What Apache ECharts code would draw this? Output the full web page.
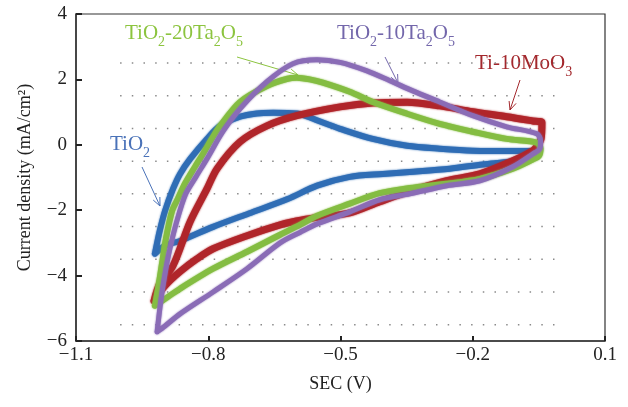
<!DOCTYPE html>
<html>
<head>
<meta charset="utf-8">
<script src="https://cdn.jsdelivr.net/npm/echarts@6/dist/echarts.min.js"></script>
<style>
html, body { margin: 0; padding: 0; background: #fff; }
#main { width: 628px; height: 407px; }
</style>
</head>
<body>
<div id="main"></div>
<script>
// axis ticks
var xTicks = [-1.1, -0.8, -0.5, -0.2, 0.1];
var yTicks = [-6, -4, -2, 0, 2, 4];
// dotted guide rows (inside the plot only)
var dotLevels = [2.5, 1.5, 0.5, -0.5, -1.5, -2.5, -3.5, -4.5, -5.5];
var dotFrom = -1.0, dotTo = 0.0;

// CV loops [E (V), j (mA/cm2)]
var tio2 = [[-0.921,-3.33],[-0.910,-2.63],[-0.898,-2.02],[-0.880,-1.35],[-0.864,-0.89],[-0.841,-0.43],[-0.803,0.18],[-0.773,0.58],[-0.728,0.86],[-0.690,0.96],[-0.653,0.98],[-0.599,0.96],[-0.576,0.87],[-0.540,0.68],[-0.501,0.49],[-0.427,0.18],[-0.349,-0.03],[-0.275,-0.12],[-0.200,-0.18],[-0.100,-0.19],[-0.062,-0.19],[-0.052,-0.30],[-0.070,-0.42],[-0.116,-0.52],[-0.177,-0.60],[-0.252,-0.73],[-0.343,-0.83],[-0.404,-0.89],[-0.479,-0.98],[-0.553,-1.25],[-0.620,-1.66],[-0.708,-2.10],[-0.789,-2.51],[-0.864,-2.94],[-0.895,-3.06],[-0.921,-3.33]];
var ta20 = [[-0.921,-4.92],[-0.914,-4.40],[-0.905,-3.64],[-0.896,-2.87],[-0.882,-2.02],[-0.869,-1.65],[-0.853,-1.19],[-0.830,-0.67],[-0.812,-0.28],[-0.792,0.18],[-0.773,0.58],[-0.728,1.31],[-0.667,1.80],[-0.620,2.02],[-0.599,2.05],[-0.570,2.00],[-0.540,1.90],[-0.479,1.62],[-0.427,1.31],[-0.349,0.95],[-0.275,0.64],[-0.200,0.40],[-0.123,0.18],[-0.055,0.07],[-0.046,-0.12],[-0.050,-0.34],[-0.064,-0.45],[-0.109,-0.73],[-0.184,-1.04],[-0.259,-1.19],[-0.343,-1.32],[-0.411,-1.48],[-0.479,-1.80],[-0.553,-2.17],[-0.592,-2.45],[-0.637,-2.75],[-0.712,-3.27],[-0.789,-3.79],[-0.864,-4.40],[-0.898,-4.71],[-0.921,-4.92]];
var ta10 = [[-0.916,-5.72],[-0.907,-4.71],[-0.898,-3.94],[-0.887,-3.18],[-0.871,-2.32],[-0.851,-1.50],[-0.828,-0.98],[-0.803,-0.43],[-0.767,0.40],[-0.728,1.10],[-0.667,1.93],[-0.608,2.48],[-0.553,2.60],[-0.501,2.52],[-0.440,2.26],[-0.388,1.96],[-0.336,1.65],[-0.275,1.31],[-0.200,0.89],[-0.123,0.55],[-0.055,0.34],[-0.046,0.12],[-0.048,-0.12],[-0.064,-0.28],[-0.109,-0.67],[-0.184,-1.10],[-0.259,-1.25],[-0.343,-1.50],[-0.411,-1.68],[-0.479,-2.05],[-0.553,-2.42],[-0.592,-2.68],[-0.637,-3.00],[-0.712,-3.79],[-0.789,-4.50],[-0.864,-5.17],[-0.898,-5.54],[-0.916,-5.72]];
var moo3 = [[-0.923,-4.77],[-0.910,-4.25],[-0.880,-3.70],[-0.841,-2.35],[-0.803,-1.35],[-0.780,-0.73],[-0.728,0.09],[-0.667,0.58],[-0.599,0.89],[-0.501,1.16],[-0.427,1.28],[-0.349,1.30],[-0.275,1.19],[-0.200,1.01],[-0.123,0.86],[-0.064,0.73],[-0.043,0.68],[-0.045,0.18],[-0.055,-0.05],[-0.064,-0.18],[-0.109,-0.49],[-0.184,-0.89],[-0.259,-1.10],[-0.343,-1.42],[-0.411,-1.74],[-0.479,-2.08],[-0.553,-2.22],[-0.600,-2.33],[-0.637,-2.45],[-0.712,-2.78],[-0.789,-3.18],[-0.826,-3.49],[-0.864,-3.88],[-0.898,-4.31],[-0.923,-4.77]];

var FONT = 'Liberation Serif';

function fmt(v) {
    var n = +(+v).toFixed(1);
    return (n < 0 ? '\u2212' : '') + Math.abs(n);
}

function arrow(x1, y1, x2, y2, color) {
    var a = Math.atan2(y2 - y1, x2 - x1), L = 9, s = 0.42;
    return {
        type: 'group',
        children: [
            { type: 'line', shape: { x1: x1, y1: y1, x2: x2, y2: y2 }, style: { stroke: color, lineWidth: 1 } },
            { type: 'polyline', shape: { points: [
                [x2 - L * Math.cos(a - s), y2 - L * Math.sin(a - s)], [x2, y2],
                [x2 - L * Math.cos(a + s), y2 - L * Math.sin(a + s)]] },
              style: { stroke: color, fill: null, lineWidth: 1 } }
        ]
    };
}

// label with subscripts: normal text hangs from the top, subscripts sit at the bottom
function label(x, y, text, color) {
    return {
        type: 'text', left: x, top: y,
        style: {
            text: text, fill: color, font: '21px ' + FONT,
            rich: {
                n: { fontFamily: FONT, fontSize: 21, lineHeight: 21, verticalAlign: 'top', fill: color },
                s: { fontFamily: FONT, fontSize: 14, lineHeight: 26, verticalAlign: 'bottom', fill: color }
            }
        }
    };
}

function loop(name, data, color, width, z) {
    return {
        name: name, type: 'line', data: data, z: z,
        showSymbol: false, smooth: 0.3, silent: true,
        lineStyle: { color: color, width: width, shadowBlur: 2, shadowColor: color, cap: 'round', join: 'round' }
    };
}

var chart = echarts.init(document.getElementById('main'));

var series = dotLevels.map(function (lv) {
    return {
        type: 'line', data: [[dotFrom, lv], [dotTo, lv]], z: 1, silent: true, showSymbol: false,
        lineStyle: { color: '#8a8a8a', width: 1.5, type: [1.5, 10.2] }
    };
});
series.push(loop('TiO2', tio2, '#2f6db5', 6, 3));
series.push(loop('Ti-10MoO3', moo3, '#b0252a', 7, 4));
series.push(loop('TiO2-20Ta2O5', ta20, '#84bd42', 6, 5));
series.push(loop('TiO2-10Ta2O5', ta10, '#8a6cb6', 5, 6));

option = {
    animation: false,
    grid: { left: 76, right: 23, top: 14, bottom: 66, show: true, borderColor: '#333', borderWidth: 1.2 },
    xAxis: {
        type: 'value', min: -1.1, max: 0.1,
        name: 'SEC (V)', nameLocation: 'middle', nameGap: 34,
        nameTextStyle: { fontFamily: FONT, fontSize: 18, color: '#222' },
        axisLine: { onZero: false, lineStyle: { color: '#333', width: 1.5 } },
        axisTick: { inside: true, length: 5, customValues: xTicks, lineStyle: { color: '#222', width: 2 } },
        axisLabel: { customValues: xTicks, formatter: fmt, margin: 5, fontFamily: FONT, fontSize: 19, color: '#222' },
        splitLine: { show: false }
    },
    yAxis: {
        type: 'value', min: -6, max: 4, interval: 2,
        name: 'Current density (mA/cm\u00b2)', nameLocation: 'middle', nameGap: 42,
        nameTextStyle: { fontFamily: FONT, fontSize: 18, color: '#222' },
        axisLine: { onZero: false, lineStyle: { color: '#333', width: 1.5 } },
        axisTick: { inside: true, length: 6, lineStyle: { color: '#222', width: 2 } },
        axisLabel: { formatter: fmt, margin: 9, fontFamily: FONT, fontSize: 19, color: '#222' },
        splitLine: { show: false }
    },
    graphic: [
        label(125, 23, '{n|TiO}{s|2}{n|-20Ta}{s|2}{n|O}{s|5}', '#8cc43f'),
        label(337, 23, '{n|TiO}{s|2}{n|-10Ta}{s|2}{n|O}{s|5}', '#7367ab'),
        label(475, 53, '{n|Ti-10MoO}{s|3}', '#a3282d'),
        label(110, 134, '{n|TiO}{s|2}', '#4a72b8'),
        arrow(237, 57, 298, 75, '#8cc43f'),
        arrow(385, 57, 398, 83, '#7367ab'),
        arrow(520, 80, 510, 110, '#a3282d'),
        arrow(142, 167, 160, 206, '#4a72b8')
    ],
    series: series
};
chart.setOption(option);
</script>
</body>
</html>
